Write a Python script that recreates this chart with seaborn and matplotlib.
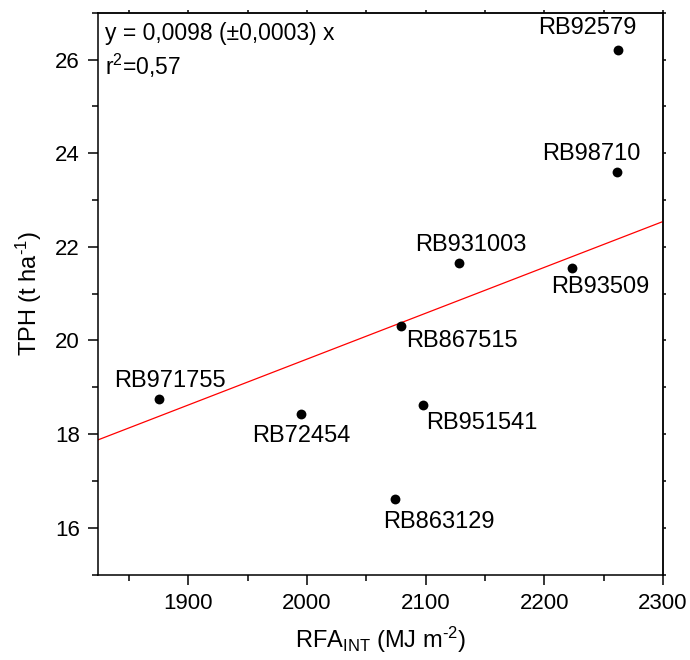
import numpy as np
import pandas as pd
import matplotlib
matplotlib.use("Agg")
import matplotlib.pyplot as plt
import seaborn as sns
from matplotlib.ticker import MultipleLocator

# ---- data ----
cultivars = ["RB92579", "RB98710", "RB931003", "RB93509", "RB867515",
             "RB971755", "RB72454", "RB951541", "RB863129"]
rfa_int = [2262, 2261, 2128, 2223, 2079.5, 1875, 1995, 2098, 2074]
tph = [26.21, 23.59, 21.66, 21.54, 20.30, 18.74, 18.43, 18.63, 16.62]
slope = 0.0098
slope_err = 0.0003
r2 = 0.57
x_ticks = [1900, 2000, 2100, 2200, 2300]
y_ticks = [16, 18, 20, 22, 24, 26]

# label offsets in pixels (label centre relative to point)
label_offsets = {
    "RB92579": (-31, 22), "RB98710": (-25, 18), "RB931003": (12, 18),
    "RB93509": (29, -19), "RB867515": (61, -15), "RB971755": (11, 18.5),
    "RB72454": (0, -22), "RB951541": (59, -18.5), "RB863129": (44, -23.5),
}

sns.set_style("ticks")
plt.rcParams['font.family'] = ['Liberation Sans', 'DejaVu Sans']
plt.rcParams['mathtext.fontset'] = 'custom'
plt.rcParams['mathtext.rm'] = 'Liberation Sans'
plt.rcParams['mathtext.it'] = 'Liberation Sans:italic'
plt.rcParams['mathtext.bf'] = 'Liberation Sans:bold'
plt.rcParams['text.color'] = 'black'
plt.rcParams['axes.labelcolor'] = 'black'
plt.rcParams['xtick.color'] = 'black'
plt.rcParams['ytick.color'] = 'black'

fig = plt.figure(figsize=(6.9, 6.6), dpi=100)
ax = fig.add_axes([98/690, 1-574.5/660, (663-98)/690, (574.5-12.7)/660])

df = pd.DataFrame({"RFA": rfa_int, "TPH": tph, "cv": cultivars})

xmin, xmax = 1824, 2300
line_df = pd.DataFrame({"x": [xmin, xmax]})
line_df["y"] = slope * line_df["x"]
sns.lineplot(data=line_df, x="x", y="y", ax=ax, color="red", linewidth=0.9,
             zorder=2)
sns.scatterplot(data=df, x="RFA", y="TPH", ax=ax, color="black", s=50,
                edgecolor="black", linewidth=0, zorder=3)

fs = 17
for cv, xv, yv in zip(cultivars, rfa_int, tph):
    dx, dy = label_offsets[cv]
    ax.annotate(cv, (xv, yv), xytext=(dx, dy), textcoords="offset pixels",
                ha="center", va="center", fontsize=fs, color="black")

ax.set_xlim(xmin, xmax)
ax.set_ylim(15, 27)
ax.set_xticks(x_ticks)
ax.set_yticks(y_ticks)
ax.xaxis.set_minor_locator(MultipleLocator(50))
ax.yaxis.set_minor_locator(MultipleLocator(1))
ax.tick_params(axis="both", which="major", direction="out", length=7,
               width=1.1, labelsize=16, colors="black", pad=6)
ax.tick_params(axis="both", which="minor", direction="out", length=4,
               width=1.1)
for s in ax.spines.values():
    s.set_visible(True)
    s.set_linewidth(1.1)
    s.set_color("black")

# short mirror ticks on top and right
secx = ax.secondary_xaxis("top")
secx.set_xticks(x_ticks)
secx.xaxis.set_minor_locator(MultipleLocator(50))
secx.tick_params(which="both", direction="out", length=2, width=1.1,
                 labeltop=False)
secx.spines["top"].set_linewidth(1.1)
secy = ax.secondary_yaxis("right")
secy.set_yticks(y_ticks)
secy.yaxis.set_minor_locator(MultipleLocator(1))
secy.tick_params(which="both", direction="out", length=2, width=1.1,
                 labelright=False)
secy.spines["right"].set_linewidth(1.1)

ax.set_xlabel(r"RFA$_{\mathrm{INT}}$ (MJ m$^{\text{-2}}$)", fontsize=17,
              labelpad=8, color="black")
ax.set_ylabel(r"TPH (t ha$^{\text{-1}}$)", fontsize=17, labelpad=8,
              color="black")

eq1 = f"y = {slope:.4f} (±{slope_err:.4f}) x".replace(".", ",")
eq2 = r"r$^{\mathrm{2}}$=" + f"{r2:.2f}".replace(".", ",")
fig.text(105/690, 1-40/660, eq1, fontsize=16.5, va="baseline", ha="left",
         color="black")
fig.text(105/690, 1-75/660, eq2, fontsize=16.5, va="baseline", ha="left",
         color="black")

fig.savefig("out.png", dpi=100)
